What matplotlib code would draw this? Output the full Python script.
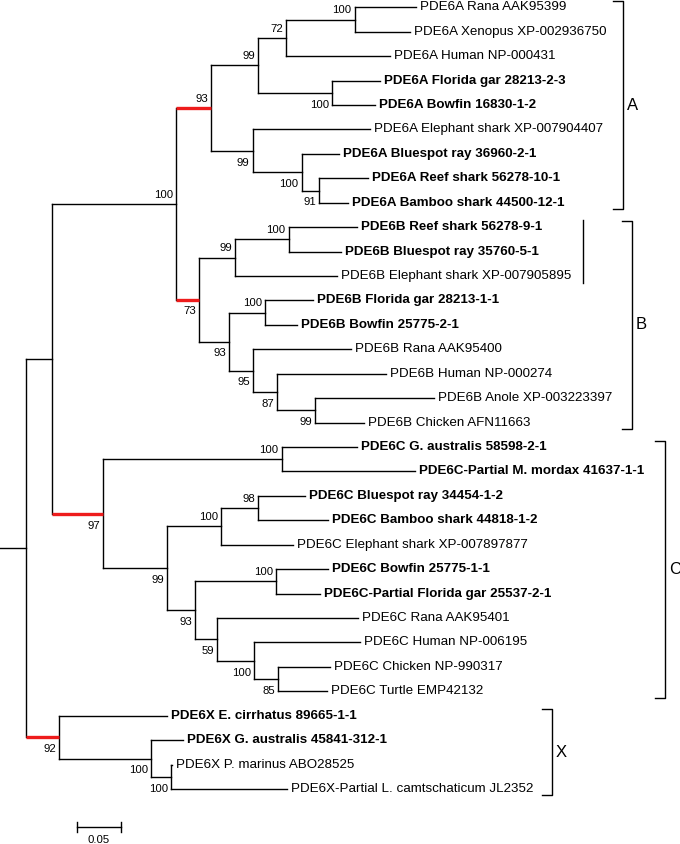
import os
import matplotlib
matplotlib.use("Agg")
import matplotlib.pyplot as plt
from matplotlib import font_manager as fm

# ---------------- data ----------------
leaf_labels = [
    "PDE6A Rana AAK95399", "PDE6A Xenopus XP-002936750", "PDE6A Human NP-000431",
    "PDE6A Florida gar 28213-2-3", "PDE6A Bowfin 16830-1-2", "PDE6A Elephant shark XP-007904407",
    "PDE6A Bluespot ray 36960-2-1", "PDE6A Reef shark 56278-10-1", "PDE6A Bamboo shark 44500-12-1",
    "PDE6B Reef shark 56278-9-1", "PDE6B Bluespot ray 35760-5-1", "PDE6B Elephant shark XP-007905895",
    "PDE6B Florida gar 28213-1-1", "PDE6B Bowfin 25775-2-1", "PDE6B Rana AAK95400",
    "PDE6B Human NP-000274", "PDE6B Anole XP-003223397", "PDE6B Chicken AFN11663",
    "PDE6C G. australis 58598-2-1", "PDE6C-Partial M. mordax 41637-1-1", "PDE6C Bluespot ray 34454-1-2",
    "PDE6C Bamboo shark 44818-1-2", "PDE6C Elephant shark XP-007897877", "PDE6C Bowfin 25775-1-1",
    "PDE6C-Partial Florida gar 25537-2-1", "PDE6C Rana AAK95401", "PDE6C Human NP-006195",
    "PDE6C Chicken NP-990317", "PDE6C Turtle EMP42132",
    "PDE6X E. cirrhatus 89665-1-1", "PDE6X G. australis 45841-312-1", "PDE6X P. marinus ABO28525",
    "PDE6X-Partial L. camtschaticum JL2352",
]
leaf_bold = [0, 0, 0, 1, 1, 0, 1, 1, 1,
             1, 1, 0, 1, 1, 0, 0, 0, 0,
             1, 1, 1, 1, 0, 1, 1, 0, 0, 0, 0,
             1, 1, 0, 0]
leaf_lengths = [0.070, 0.0625, 0.118, 0.0545, 0.049, 0.133, 0.042, 0.0557, 0.033,
                0.078, 0.060, 0.116, 0.0545, 0.036, 0.111, 0.124, 0.135, 0.0557,
                0.086, 0.151, 0.053, 0.080, 0.082, 0.059, 0.050, 0.160, 0.120, 0.059, 0.0557,
                0.123, 0.036, 0.001, 0.132]

node_names = ["root", "ABC", "X", "AB", "C", "A", "B", "A1", "A2", "A1a", "FGB", "RX",
              "A3", "A4", "B1", "B2", "B1a", "B3", "B4", "B5", "B6", "C1", "C2", "C3",
              "C4", "C3a", "C5", "C6", "C7", "C8", "X2", "X3"]
node_children = [("ABC", "X"), ("AB", "C"), (29, "X2"), ("A", "B"), ("C1", "C2"),
                 ("A1", "A2"), ("B1", "B2"), ("A1a", "FGB"), (5, "A3"), ("RX", 2),
                 (3, 4), (0, 1), (6, "A4"), (7, 8), ("B1a", 11), ("B3", "B4"), (9, 10),
                 (12, 13), (14, "B5"), (15, "B6"), (16, 17), (18, 19), ("C3", "C4"),
                 ("C3a", 22), ("C5", "C6"), (20, 21), (23, 24), (25, "C7"), (26, "C8"),
                 (27, 28), (30, "X3"), (31, 32)]
node_lengths = [0.0295, 0.0295, 0.0375, 0.141, 0.058, 0.040, 0.026, 0.053, 0.047, 0.032,
                0.084, 0.078, 0.0557, 0.020, 0.041, 0.034, 0.061, 0.041, 0.028, 0.027,
                0.043, 0.203, 0.073, 0.061, 0.032, 0.042, 0.092, 0.025, 0.042, 0.027,
                0.1045, 0.023]
node_support = [None, None, 92, 100, 97, 93, 73, 99, 99, 72, 100, 100, 100, 91, 99, 93,
                100, 100, 95, 87, 99, 100, 99, 100, 93, 98, 100, 59, 100, 85, 100, 100]
highlight_nodes = ["A", "B", "C", "X"]

group_labels = ["A", "B", "C", "X"]
group_first = [0, 9, 18, 29]
group_last = [8, 17, 28, 32]

scale_length = 0.05
scale_label = "0.05"

# ---------------- fonts ----------------
def font_file(name):
    for f in fm.findSystemFonts():
        if os.path.basename(f).lower() == name.lower():
            return f
    return None


reg_file = font_file("LiberationSans-Regular.ttf")
bold_file = font_file("LiberationSans-Bold.ttf")


def fprop(size, bold=False):
    path = bold_file if bold else reg_file
    if path:
        return fm.FontProperties(fname=path, size=size)
    return fm.FontProperties(family="Liberation Sans", size=size,
                             weight="bold" if bold else "normal")


# ---------------- layout ----------------
W, H = 680, 844
PX = 880.0          # pixels per substitution unit
ROOT_PX = 26.0      # pixel x of root node
ROW = 24.43         # pixels per leaf row
Y0 = 7.3            # pixel y of first leaf


def xd(px):
    return (px - ROOT_PX) / PX


def yd(py):
    return (py - Y0) / ROW


fig = plt.figure(figsize=(W / 100, H / 100), dpi=100)
ax = fig.add_axes([0, 0, 1, 1])
ax.set_xlim(xd(0), xd(W))
ax.set_ylim(yd(H), yd(0))
ax.axis("off")

LW = 1.0
RED = "#ee1c1c"
dxp = 1.0 / PX  # one pixel in data x
LEAF_FS = 9.6
SUP_FS = 8.2

index = {n: i for i, n in enumerate(node_names)}


def hline(x0, x1, y, red=False):
    ax.plot([x0, x1], [y, y], color=RED if red else "black",
            lw=2.4 if red else LW, solid_capstyle="butt" if red else "projecting",
            zorder=3 if red else 2)


def vline(x, y0, y1):
    ax.plot([x, x], [y0, y1], color="black", lw=LW, solid_capstyle="projecting", zorder=2)


def draw(node, xparent, upper):
    if isinstance(node, int):
        x = xparent + leaf_lengths[node]
        y = node
        hline(xparent, x, y)
        ax.text(x + 4 * dxp, y, leaf_labels[node], ha="left", va="center",
                fontproperties=fprop(LEAF_FS, bool(leaf_bold[node])))
        return y
    i = index[node]
    x = xparent + node_lengths[i]
    c0, c1 = node_children[i]
    y0 = draw(c0, x, True)
    y1 = draw(c1, x, False)
    y = (y0 + y1) / 2
    vline(x, y0, y1)
    hline(xparent, x, y, red=node in highlight_nodes)
    sup = node_support[i]
    if sup is not None:
        ty = y - 0.38 if upper else y + 0.48
        ax.text(x - 3 * dxp, ty, str(sup), ha="right", va="center",
                fontproperties=fprop(SUP_FS))
    return y


draw("root", -node_lengths[0], True)

# group brackets (pixel x positions)
bracket_px = [623, 632, 665, 552]
for lab, f, l, bx in zip(group_labels, group_first, group_last, bracket_px):
    top = f - 0.26
    bot = l + 0.26
    xb = xd(bx)
    ax.plot([xb - 10 * dxp, xb, xb, xb - 10 * dxp], [top, top, bot, bot],
            color="black", lw=LW, zorder=2)
    ax.text(xb + 4 * dxp, (top + bot) / 2, lab, ha="left", va="center",
            fontproperties=fprop(12.0))

# extra plain line next to the first B sub-clade
ax.plot([xd(583), xd(583)], [group_first[1] - 0.28, group_first[1] + 2 + 0.28],
        color="black", lw=LW)

# scale bar
sx0 = xd(77)
sy = yd(827)
ax.plot([sx0, sx0 + scale_length], [sy, sy], color="black", lw=LW)
for sx in (sx0, sx0 + scale_length):
    ax.plot([sx, sx], [sy - 0.2, sy + 0.2], color="black", lw=LW)
ax.text(sx0 + scale_length / 2, yd(840), scale_label, ha="center", va="center",
        fontproperties=fprop(SUP_FS))

fig.savefig("out.png", dpi=100)
